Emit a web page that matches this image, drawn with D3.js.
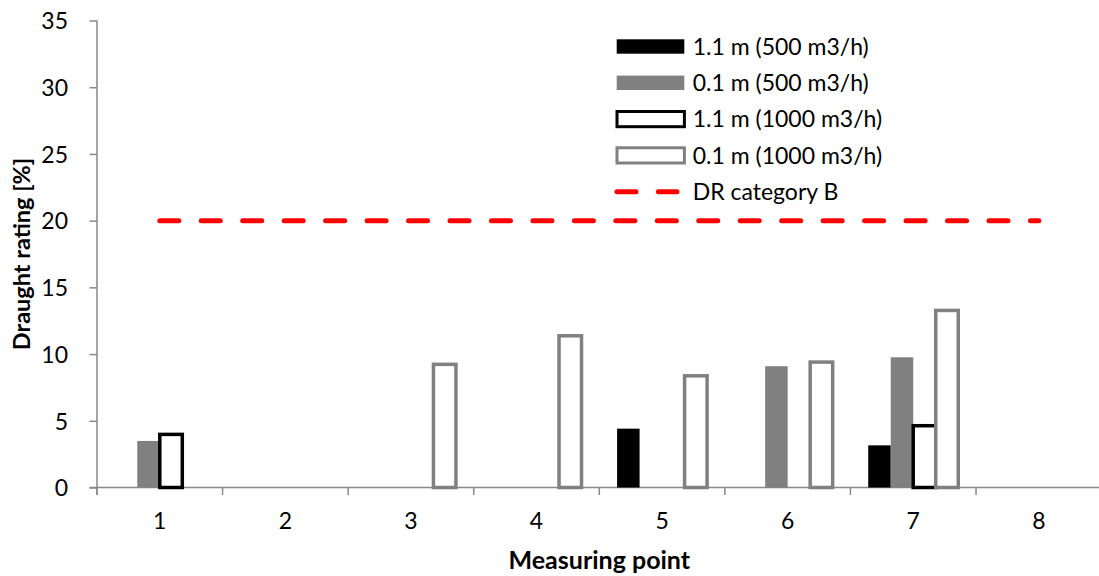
<!DOCTYPE html>
<html>
<head>
<meta charset="utf-8">
<script src="https://cdn.jsdelivr.net/npm/d3@7"></script>
<style>
  html, body { margin: 0; padding: 0; background: #fff; }
  svg { display: block; font-family: Lato, "Open Sans", sans-serif; }
</style>
</head>
<body>
<svg id="chart" width="1099" height="576"></svg>
<script>
// ---- data ----
const categories = ["1", "2", "3", "4", "5", "6", "7", "8"];
const seriesNames = ["1.1 m (500 m3/h)", "0.1 m (500 m3/h)", "1.1 m (1000 m3/h)", "0.1 m (1000 m3/h)"];
const black500  = [null, null, null, null, 4.41, null, 3.16, null];
const gray500   = [3.49, null, null, null, null, 9.09, 9.76, null];
const black1000 = [3.98, null, null, null, null, null, 4.63, null];
const gray1000  = [null, null, 9.23, 11.37, 8.37, 9.40, 13.27, null];
const drCategoryB = [20, 20, 20, 20, 20, 20, 20, 20];
const drLabel = "DR category B";
const yTicks = [0, 5, 10, 15, 20, 25, 30, 35];
const xTitle = "Measuring point";
const yTitle = "Draught rating [%]";

// ---- styles ----
const seriesStyles = [
  { fill: "#000000", stroke: "none", sw: 0 },
  { fill: "#808080", stroke: "none", sw: 0 },
  { fill: "#ffffff", stroke: "#000000", sw: 3.5 },
  { fill: "#ffffff", stroke: "#808080", sw: 3.5 }
];
const seriesValues = [black500, gray500, black1000, gray1000];

const svg = d3.select("#chart");
const axisColor = "#898989";
const pLeft = 97, pRight = 1101.6, pTop = 20.5, pBottom = 487.5;

const x = d3.scaleBand().domain(categories).range([pLeft, pRight]).padding(0);
const xs = d3.scaleBand().domain(seriesNames).range([0, x.bandwidth()]).paddingInner(0).paddingOuter(0.79);
const y = d3.scaleLinear().domain([0, 35]).range([pBottom, pTop]);

// ---- y axis ----
const yAxis = d3.axisLeft(y).tickValues(yTicks).tickSize(7.5).tickPadding(21.5).tickFormat(d3.format("d"));
const gy = svg.append("g").attr("transform", `translate(${pLeft},0)`).call(yAxis);
gy.select(".domain").attr("stroke", axisColor).attr("stroke-width", 1.5)
  .attr("d", `M0,${pTop}V${pBottom + 7.5}`);
gy.selectAll(".tick line").attr("stroke", axisColor).attr("stroke-width", 1.5);
gy.selectAll(".tick text").attr("fill", "#000").attr("font-size", 23)
  .attr("font-family", "Lato").attr("dy", "0.36em");

// ---- x axis ----
const xAxis = d3.axisBottom(x).tickSize(0).tickPadding(0);
const gx = svg.append("g").attr("transform", `translate(0,${pBottom})`).call(xAxis);
gx.select(".domain").attr("stroke", axisColor).attr("stroke-width", 1.5)
  .attr("d", `M${pLeft - 7.5},0H${pRight}`);
gx.selectAll(".tick text").attr("fill", "#000").attr("font-size", 23)
  .attr("font-family", "Lato").attr("y", 41.8).attr("dy", 0);
// boundary tick marks
const boundaries = categories.map(c => x(c)).concat([pRight]);
gx.selectAll(".bnd").data(boundaries).enter().append("line")
  .attr("class", "bnd")
  .attr("x1", d => d).attr("x2", d => d).attr("y1", 0).attr("y2", 7.5)
  .attr("stroke", axisColor).attr("stroke-width", 1.5);

// ---- bars ----
const barData = [];
seriesNames.forEach((s, si) => {
  categories.forEach((c, ci) => {
    const v = seriesValues[si][ci];
    if (v != null) barData.push({ s, si, c, v });
  });
});
svg.append("g").selectAll("rect").data(barData).enter().append("rect")
  .attr("x", d => x(d.c) + xs(d.s))
  .attr("width", xs.bandwidth())
  .attr("y", d => y(d.v))
  .attr("height", d => y(0) - y(d.v))
  .attr("fill", d => seriesStyles[d.si].fill)
  .attr("stroke", d => seriesStyles[d.si].stroke)
  .attr("stroke-width", d => seriesStyles[d.si].sw);

// ---- DR category B line ----
const line = d3.line().x((d, i) => x(categories[i]) + x.bandwidth() / 2).y(d => y(d));
svg.append("path").datum(drCategoryB)
  .attr("d", line)
  .attr("fill", "none").attr("stroke", "#ff0000").attr("stroke-width", 5)
  .attr("stroke-linecap", "round").attr("stroke-dasharray", "19,22.46");

// ---- axis titles ----
svg.append("text").attr("x", (pLeft + pRight) / 2).attr("y", 569)
  .attr("text-anchor", "middle").attr("font-size", 25).attr("font-weight", "bold")
  .attr("fill", "#000").text(xTitle);
svg.append("text").attr("transform", `translate(30,${(pTop + pBottom) / 2}) rotate(-90)`)
  .attr("text-anchor", "middle").attr("font-size", 23.5).attr("font-weight", "bold")
  .attr("fill", "#000").text(yTitle);

// ---- legend ----
const legendX = 616.7, legendTextX = 692.7, legendRow0 = 46.5, legendStep = 36.3;
const lg = svg.append("g");
seriesNames.forEach((s, i) => {
  const cy = legendRow0 + i * legendStep;
  const st = seriesStyles[i];
  if (st.sw > 0) {
    lg.append("rect").attr("x", legendX + 0.3).attr("y", cy - 7.6).attr("width", 67.4).attr("height", 15.2)
      .attr("fill", st.fill).attr("stroke", st.stroke).attr("stroke-width", 3);
  } else {
    lg.append("rect").attr("x", legendX).attr("y", cy - 7.2).attr("width", 67.6).attr("height", 14.4)
      .attr("fill", st.fill);
  }
  lg.append("text").attr("x", legendTextX).attr("y", cy + 8.2)
    .attr("font-size", 23).attr("fill", "#000").text(s);
});
{
  const cy = legendRow0 + 4 * legendStep;
  lg.append("line").attr("x1", 617).attr("x2", 677).attr("y1", cy).attr("y2", cy)
    .attr("stroke", "#ff0000").attr("stroke-width", 5).attr("stroke-linecap", "round")
    .attr("stroke-dasharray", "19,22.46");
  lg.append("text").attr("x", legendTextX).attr("y", cy + 8.2)
    .attr("font-size", 23).attr("fill", "#000").text(drLabel);
}
</script>
</body>
</html>
